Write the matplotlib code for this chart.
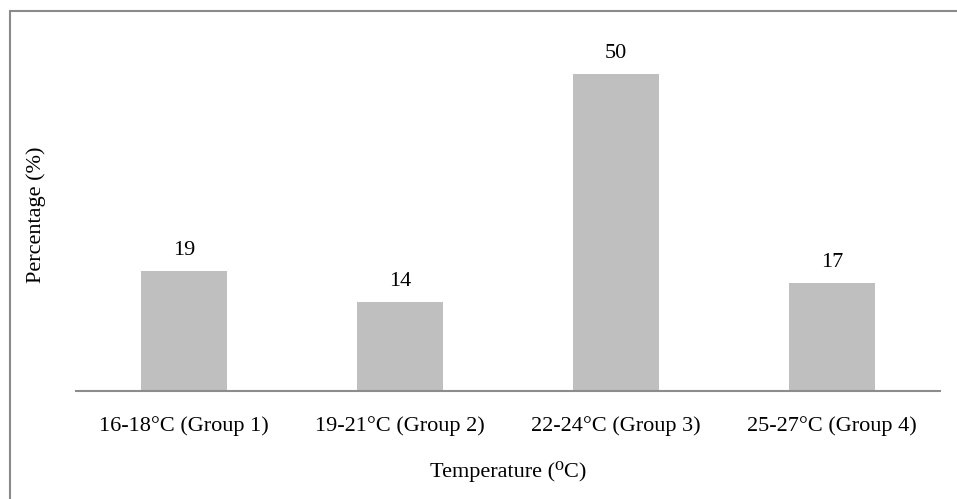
import matplotlib
matplotlib.use('Agg')
import matplotlib.pyplot as plt
from matplotlib.patches import Rectangle

plt.rcParams['font.family'] = ['Liberation Serif', 'DejaVu Serif']

groups = ['16-18°C (Group 1)', '19-21°C (Group 2)', '22-24°C (Group 3)', '25-27°C (Group 4)']
percent = [19, 14, 50, 17]

W, H = 957, 499
fs = 16
fig = plt.figure(figsize=(W / 100, H / 100), dpi=100)
ax = fig.add_axes([76 / W, (H - 391) / H, 864 / W, 380 / H])

x = range(len(groups))
ax.bar(x, percent, width=0.40, color='#bfbfbf')
for i, v in zip(x, percent):
    ax.annotate(str(v), (i, v), xytext=(0, 8), textcoords='offset points',
                ha='center', va='bottom', fontsize=fs)

ax.set_xlim(-0.5, len(groups) - 0.5)
ax.set_ylim(0, 60)
ax.set_xticks(list(x))
ax.set_xticklabels(groups, fontsize=fs)
ax.tick_params(axis='x', length=0, pad=18)
ax.set_yticks([])
for s in ['top', 'right', 'left']:
    ax.spines[s].set_visible(False)
ax.spines['bottom'].set_color('#8c8c8c')
ax.spines['bottom'].set_linewidth(1.5)

ax.set_ylabel('Percentage (%)', fontsize=fs)
ax.yaxis.set_label_coords(-0.035, 0.463)
ax.set_xlabel('Temperature (⁰C)', fontsize=fs)
ax.xaxis.set_label_coords(0.5, -0.184)

# outer frame, open on the right and bottom
fig.patches.append(Rectangle((9.5 / W, -0.1), 1.2, (H - 11.5) / H + 0.1, fill=False,
                             edgecolor='#8a8a8a', linewidth=1.5, transform=fig.transFigure))

fig.savefig('out.png', dpi=100)
